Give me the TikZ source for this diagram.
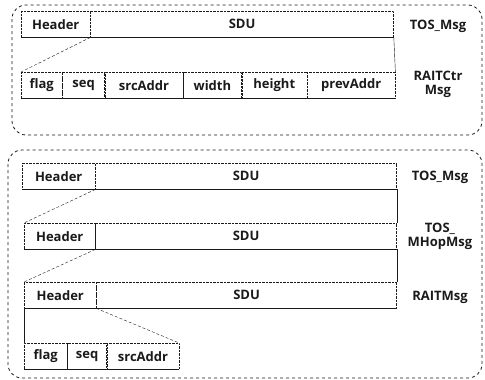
\documentclass[tikz,border=0pt]{standalone}
\usepackage{fontspec}
\setmainfont{Open Sans}
\usetikzlibrary{positioning}
\definecolor{MInk}{HTML}{1A1A1A}

\begin{document}
\begin{tikzpicture}[
  x=1pt,y=-1pt,
  fld/.style={draw=MInk,densely dotted,minimum height=26pt,inner sep=0pt,
    font=\bfseries\fontsize{13}{14}\selectfont,text=MInk,anchor=north west},
  base/.style={draw=MInk,line width=1.4pt},
  zoom/.style={draw=MInk,thin,densely dashed},
  side/.style={draw=MInk,thin},
  lbl/.style={font=\bfseries\fontsize{13}{14}\selectfont,text=MInk,align=center},
  frame/.style={draw=MInk,dashed,thick,rounded corners=14pt}
]
  \useasboundingbox (0,0) rectangle (485,380);
  % upper frame: TOS_Msg carrying a RAITCtr message
  \draw[frame] (12,5) rectangle (482,135);
  \node[fld,minimum width=69pt] (h1) at (21,11) {Header};
  \node[fld,minimum width=303pt,right=0pt of h1] (s1) {SDU};
  \node[fld,minimum width=41pt] (flag1) at (21,72) {flag};
  \node[fld,minimum width=42pt,right=0pt of flag1] (seq1) {seq};
  \node[fld,minimum width=78pt,right=0pt of seq1] (src1) {srcAddr};
  \node[fld,minimum width=58pt,right=0pt of src1] (wid1) {width};
  \node[fld,minimum width=65pt,right=0pt of wid1] (hgt1) {height};
  \node[fld,minimum width=88pt,right=0pt of hgt1] (prev1) {prevAddr};
  \draw[base] (h1.south west) -- (s1.south east);
  \draw[base] (flag1.south west) -- (prev1.south east);
  \draw[zoom] (h1.south east) -- (flag1.north west);
  \draw[side] (s1.south east) -- (prev1.north east);
  \node[lbl] (l1) at (438,26) {TOS\_Msg};
  \node[lbl] (l2) at (438,84) {RAITCtr\\Msg};

  % lower frame: TOS_Msg / TOS_MHopMsg / RAITMsg nesting
  \draw[frame] (8,150) rectangle (482,378);
  \node[fld,minimum width=73pt] (h2) at (22,163) {Header};
  \node[fld,minimum width=301pt,right=0pt of h2] (s2) {SDU};
  \node[fld,minimum width=71pt] (h3) at (24,223) {Header};
  \node[fld,minimum width=301pt,right=0pt of h3] (s3) {SDU};
  \node[fld,minimum width=72pt] (h4) at (24,282) {Header};
  \node[fld,minimum width=300pt,right=0pt of h4] (s4) {SDU};
  \node[fld,minimum width=43pt] (flag2) at (24,343) {flag};
  \node[fld,minimum width=39pt,right=0pt of flag2] (seq2) {seq};
  \node[fld,minimum width=72pt,right=0pt of seq2] (src2) {srcAddr};
  \draw[base] (h2.south west) -- (s2.south east);
  \draw[base] (h3.south west) -- (s3.south east);
  \draw[base] (h4.south west) -- (s4.south east);
  \draw[base] (flag2.south west) -- (src2.south east);
  \draw[zoom] (h2.south east) -- (h3.north west);
  \draw[side] (s2.south east) -- (s3.north east);
  \draw[zoom] (h3.south east) -- (h4.north west);
  \draw[side] (s3.south east) -- (s4.north east);
  \draw[side] (h4.south west) -- (flag2.north west);
  \draw[zoom] (h4.south east) -- (src2.north east);
  \node[lbl] (l3) at (440,177) {TOS\_Msg};
  \node[lbl] (l4) at (440,236) {TOS\_\\MHopMsg};
  \node[lbl] (l5) at (440,297) {RAITMsg};
\end{tikzpicture}
\end{document}
